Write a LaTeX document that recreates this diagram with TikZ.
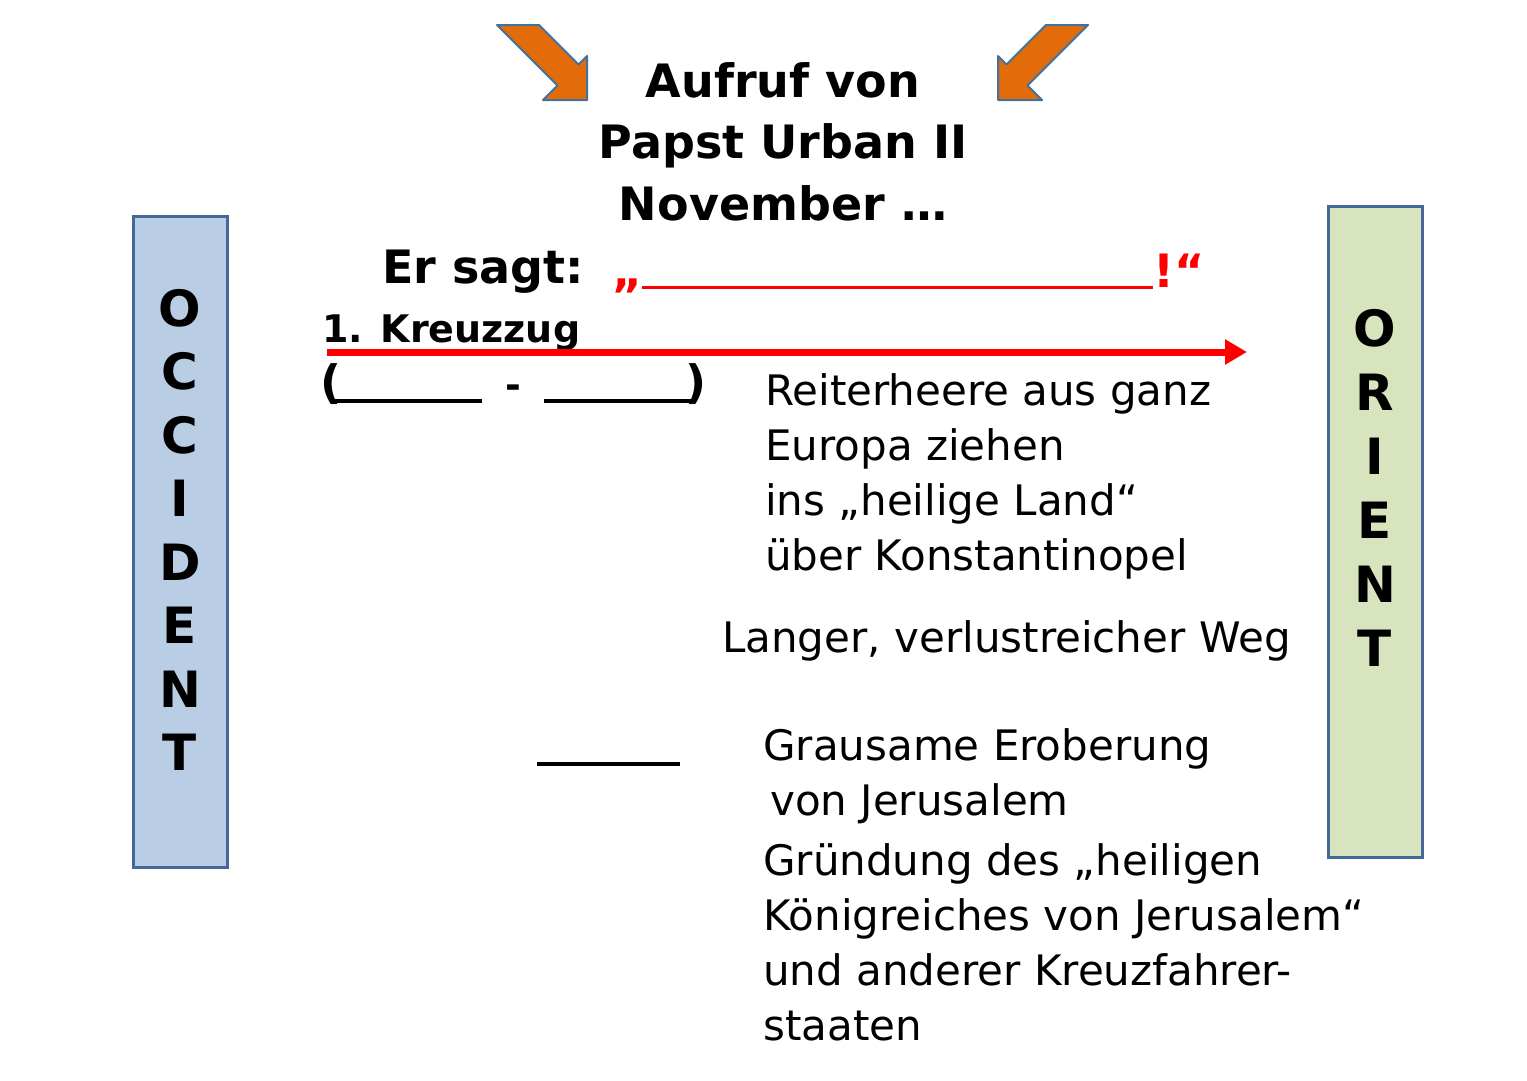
\documentclass[tikz,border=0pt]{standalone}
\usepackage{fontspec}
\setmainfont{DejaVu Sans}
\usetikzlibrary{arrows.meta,positioning}

\definecolor{okzfill}{HTML}{B9CDE5}
\definecolor{orifill}{HTML}{D7E4BD}
\definecolor{kastenrand}{HTML}{46679A}
\definecolor{pfeilorange}{HTML}{E36C0A}
\definecolor{pfeilrand}{HTML}{41719C}

\newcommand{\klammergross}{\fontsize{46}{46}\selectfont}

\tikzset{
  kasten/.style={draw=kastenrand, line width=3pt, minimum width=94pt, minimum height=651pt, inner sep=0pt},
  buchstabe/.style={font=\fontsize{50}{50}\selectfont\bfseries, inner sep=0pt},
  titel/.style={font=\fontsize{46}{61}\selectfont\bfseries, inner sep=0pt, anchor=base},
  gross/.style={font=\fontsize{46}{55}\selectfont\bfseries, inner sep=0pt, anchor=base west},
  fett/.style={font=\fontsize{38}{55}\selectfont\bfseries, inner sep=0pt, anchor=base west},
  normal/.style={font=\fontsize{42}{55}\selectfont, align=left, inner sep=0pt, anchor=base west},
  zugpfeil/.style={red, line width=7pt, -{Triangle[length=22pt,width=24pt]}},
  blockpfeil/.style={fill=pfeilorange, draw=pfeilrand, line width=2pt, line join=round},
}

\begin{document}
\begin{tikzpicture}[x=1pt,y=-1pt]
  \useasboundingbox (0,0) rectangle (1527,1080);

  % Okzident und Orient
  \node[kasten, fill=okzfill] (okzident) at (180,541.5) {};
  \node[kasten, fill=orifill] (orient)   at (1375,531.5) {};
  \foreach \b [count=\i] in {O,C,C,I,D,E,N,T}
    \node[buchstabe] (okz\i) at (180,{308+63.5*(\i-1)}) {\b};
  \foreach \b [count=\i] in {O,R,I,E,N,T}
    \node[buchstabe] (ori\i) at (1375,{328+64*(\i-1)}) {\b};

  % orange Pfeile
  \draw[blockpfeil] (497,25) -- (539,25) -- (578.5,64.5) -- (587,56) -- (587,100)
    -- (543,100) -- (557.5,85.5) -- cycle;
  \draw[blockpfeil] (1088,25) -- (1046,25) -- (1006.5,64.5) -- (998,56) -- (998,100)
    -- (1042,100) -- (1027.5,85.5) -- cycle;

  % Aufruf
  \node[titel] (aufruf)   at (783,97)  {Aufruf von};
  \node[titel] (papst)    at (783,158) {Papst Urban II};
  \node[titel] (november) at (783,220) {November …};

  \node[gross] (ersagt) at (382,283) {Er sagt:};
  \node[gross, red] (zitat) at (612,287) {„\rule[-2pt]{511pt}{3pt}!“};

  % 1. Kreuzzug
  \node[fett] (kreuzzug) at (322,342) {1. Kreuzzug};
  \coordinate (zugstart) at (327,352);
  \coordinate (zugende)  at (1247,352);
  \draw[zugpfeil] (zugstart) -- (zugende);
  \node[fett] (zeitraum) at (320,398)
    {{\klammergross(}\kern-9pt\rule[-5pt]{150pt}{4pt}\hspace{23pt}-\hspace{23pt}\rule[-5pt]{147pt}{4pt}\kern-5pt{\klammergross)}};

  % Texte rechts (Anker: Grundlinie der letzten Zeile)
  \node[normal] (reiter) at (765,570)
    {Reiterheere aus ganz\\Europa ziehen\\ins „heilige Land“\\über Konstantinopel};
  \node[normal] (weg) at (722,652) {Langer, verlustreicher Weg};
  \node[fett] (luecke) at (537,766) {\rule{143pt}{4pt}};
  \node[normal] (eroberung) at (763,815)
    {Grausame Eroberung\\\hspace*{7pt}von Jerusalem};
  \node[normal] (gruendung) at (763,1040)
    {Gründung des „heiligen\\Königreiches von Jerusalem“\\und anderer Kreuzfahrer-\\staaten};
\end{tikzpicture}
\end{document}
